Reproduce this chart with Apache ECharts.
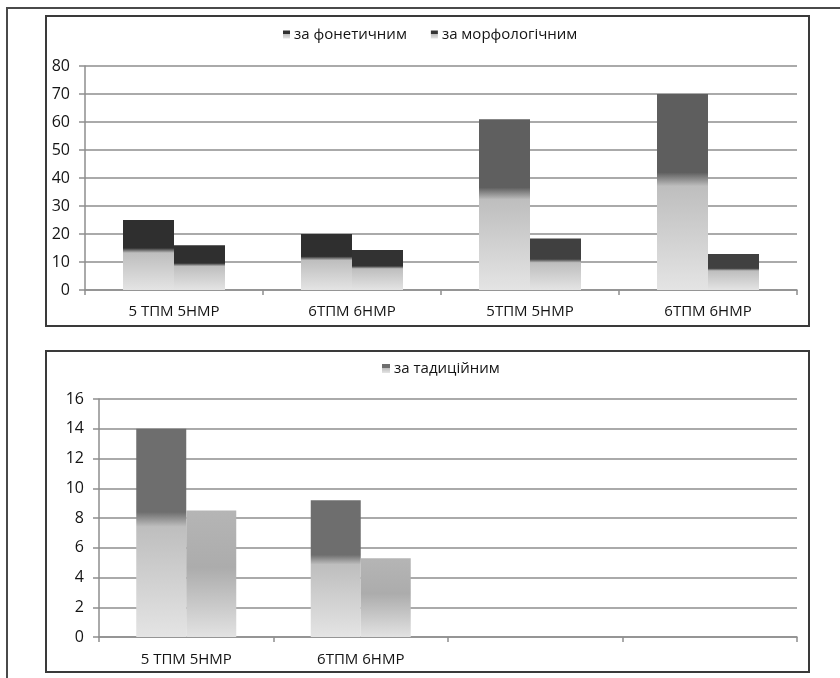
<!DOCTYPE html>
<html><head><meta charset="utf-8">
<script src="https://cdn.jsdelivr.net/npm/echarts@6/dist/echarts.min.js"></script>
<style>
html,body{margin:0;padding:0;background:#fff;width:840px;height:678px;overflow:hidden}
body{position:relative}
.frame{position:absolute;left:6px;top:7px;right:-4px;bottom:-4px;border-top:2px solid #4a4a4a;border-left:2px solid #4a4a4a}
.box{position:absolute;box-sizing:border-box;border:2px solid #3a3a3a;pointer-events:none}
.chart{position:absolute}
</style></head><body>
<div class="frame"></div>
<div id="c1" class="chart" style="left:46px;top:16px;width:762px;height:310px"></div>
<div class="box" style="left:45px;top:15px;width:765px;height:312px"></div>
<div id="c2" class="chart" style="left:46px;top:351px;width:762px;height:321px"></div>
<div class="box" style="left:45px;top:350px;width:765px;height:323px"></div>
<script>
// ---- data: top chart ----
var categories1 = ['5 ТПМ 5НМР', '6ТПМ 6НМР', '5ТПМ 5НМР', '6ТПМ 6НМР'];
var seriesNames1 = ['за фонетичним', 'за морфологічним'];
var phoneticValues = [25, 20, 61, 70];
var morphologicalValues = [16, 14.3, 18.4, 12.9];
var yTicks1 = {min: 0, max: 80, interval: 10};

// ---- data: bottom chart ----
var categories2 = ['5 ТПМ 5НМР', '6ТПМ 6НМР', '', ''];
var seriesNames2 = ['за тадиційним', ' '];
var traditionalValues = [14, 9.2];
var traditionalValues2 = [8.5, 5.3];
var yTicks2 = {min: 0, max: 16, interval: 2};

// ---- styles (kept separate from data) ----
var phoneticTop = ['#2f2f2f', '#2f2f2f', '#5f5f5f', '#5e5e5e'];
var morphTop = ['#2f2f2f', '#323232', '#404040', '#404040'];
var FONT = 'Open Sans';
var TXT = '#141414';
var GRID = '#8e8e8e';

function barGrad(top) {
  return {type: 'linear', x: 0, y: 0, x2: 0, y2: 1, colorStops: [
    {offset: 0, color: top}, {offset: 0.40, color: top},
    {offset: 0.47, color: '#bebebe'}, {offset: 1, color: '#e4e4e4'}
  ]};
}
function lightGrad() {
  return {type: 'linear', x: 0, y: 0, x2: 0, y2: 1, colorStops: [
    {offset: 0, color: '#b5b5b5'}, {offset: 0.45, color: '#acacac'},
    {offset: 1, color: '#e2e2e2'}
  ]};
}
function styled(values, tops) {
  return values.map(function (v, i) { return {value: v, itemStyle: {color: barGrad(tops[i])}}; });
}

function xAx(cats, margin) {
  return {type: 'category', data: cats, boundaryGap: true,
    axisLine: {show: true, lineStyle: {color: GRID, width: 1.5}},
    axisTick: {show: true, length: 5, lineStyle: {color: GRID, width: 1.5}},
    axisLabel: {fontFamily: FONT, fontSize: 15, color: TXT, margin: margin, interval: 0}};
}
function yAx(t, margin) {
  return {type: 'value', min: t.min, max: t.max, interval: t.interval,
    axisLine: {show: true, lineStyle: {color: GRID, width: 1.5}},
    axisTick: {show: true, length: 6, lineStyle: {color: GRID, width: 1.5}},
    splitLine: {show: true, lineStyle: {color: GRID, width: 1.5}},
    axisLabel: {fontFamily: FONT, fontSize: 16, color: TXT, margin: margin}};
}

var c1 = echarts.init(document.getElementById('c1'), null, {renderer: 'canvas'});
c1.setOption({
  animation: false,
  backgroundColor: 'transparent',
  legend: {left: 232, top: 6, itemWidth: 7, itemHeight: 8, itemGap: 24, icon: 'rect',
    data: seriesNames1,
    textStyle: {fontFamily: FONT, fontSize: 15, color: TXT, padding: [0, 0, 0, -1]}},
  grid: {left: 39, right: 11, top: 50, bottom: 36, containLabel: false, outerBoundsMode: 'none'},
  xAxis: xAx(categories1, 14),
  yAxis: yAx(yTicks1, 15),
  series: [
    {name: seriesNames1[0], type: 'bar', barWidth: 51, barGap: '0%',
      itemStyle: {color: barGrad('#2f2f2f')}, data: styled(phoneticValues, phoneticTop)},
    {name: seriesNames1[1], type: 'bar', barWidth: 51, barGap: '0%',
      itemStyle: {color: barGrad('#353535')}, data: styled(morphologicalValues, morphTop)}
  ]
});

var c2 = echarts.init(document.getElementById('c2'), null, {renderer: 'canvas'});
c2.setOption({
  animation: false,
  backgroundColor: 'transparent',
  legend: {left: 331, top: 5, itemWidth: 8, itemHeight: 9, icon: 'rect',
    data: [seriesNames2[0]],
    textStyle: {fontFamily: FONT, fontSize: 15, color: TXT, padding: [0, 0, 0, -1]}},
  grid: {left: 53, right: 11, top: 48, bottom: 35, containLabel: false, outerBoundsMode: 'none'},
  xAxis: xAx(categories2, 15),
  yAxis: yAx(yTicks2, 15),
  series: [
    {name: seriesNames2[0], type: 'bar', barWidth: 50, barGap: '0%',
      itemStyle: {color: barGrad('#6e6e6e')}, data: traditionalValues},
    {name: seriesNames2[1], type: 'bar', barWidth: 50, barGap: '0%',
      itemStyle: {color: lightGrad()}, data: traditionalValues2}
  ]
});
</script>
</body></html>
